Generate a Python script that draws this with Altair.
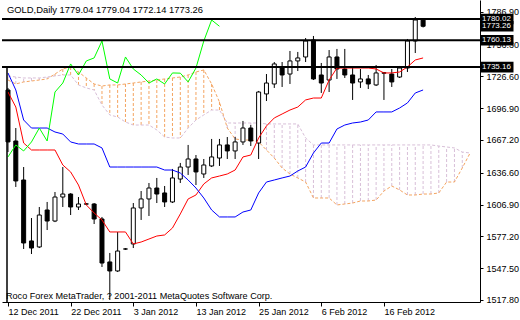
import altair as alt
import pandas as pd

symbol = "GOLD,Daily"
footer = "Roco Forex MetaTrader, ? 2001-2011 MetaQuotes Software Corp."

opens = [1713.8, 1666.2, 1629.8, 1572.9, 1567.3, 1601.8, 1591.5, 1613.9, 1616.7, 1604.6,
         1607.5, 1607.4, 1593.4, 1553.3, 1544.9, 1565.4, 1570.1, 1603.7, 1612.1, 1622.3,
         1617.7, 1609.3, 1630.7, 1641.9, 1649.4, 1635.4, 1642.9, 1650.3, 1662.5, 1656.9,
         1665.3, 1678.3, 1664.3, 1710.1, 1719.4, 1734.3, 1728.7, 1740.9, 1744.6, 1760.5,
         1727.8, 1723.1, 1744.6, 1733.4, 1727.8, 1721.3, 1724.1, 1718.5, 1729.9, 1728.7,
         1725.9, 1734.3, 1759.5, 1779.04]
highs = [1715.7, 1678.3, 1641.9, 1594.3, 1604.6, 1609.3, 1618.6, 1641.9, 1617.5, 1613.9,
         1608.3, 1608.3, 1595.3, 1561.7, 1581.3, 1566.2, 1608.3, 1619.5, 1627.0, 1631.7,
         1624.2, 1640.1, 1645.7, 1662.5, 1653.1, 1649.4, 1668.1, 1668.1, 1669.9, 1669.9,
         1684.9, 1681.1, 1712.9, 1728.7, 1739.9, 1739.9, 1750.2, 1749.3, 1762.3, 1764.2,
         1739.0, 1751.1, 1752.1, 1752.1, 1734.3, 1733.4, 1727.8, 1737.1, 1730.6, 1733.4,
         1736.2, 1761.4, 1781.9, 1779.04]
lows = [1655.9, 1623.3, 1565.4, 1560.7, 1566.3, 1583.1, 1590.5, 1604.6, 1597.1, 1601.8,
        1606.6, 1588.7, 1548.6, 1517.8, 1543.9, 1564.6, 1566.3, 1592.5, 1596.2, 1608.3,
        1604.6, 1608.3, 1627.0, 1634.5, 1625.1, 1631.7, 1641.9, 1642.9, 1649.4, 1649.4,
        1662.5, 1661.5, 1649.4, 1703.5, 1715.7, 1716.6, 1719.4, 1731.5, 1739.9, 1723.1,
        1711.0, 1711.9, 1724.1, 1725.0, 1704.5, 1715.7, 1714.7, 1717.5, 1704.5, 1716.6,
        1725.0, 1730.6, 1748.3, 1772.14]
closes = [1665.3, 1628.9, 1571.0, 1566.3, 1597.1, 1591.5, 1613.9, 1616.7, 1604.6, 1607.4,
          1607.3, 1593.4, 1552.3, 1544.9, 1563.5, 1565.4, 1603.7, 1612.1, 1622.3, 1616.7,
          1609.3, 1631.7, 1641.9, 1649.4, 1637.3, 1643.8, 1651.3, 1662.5, 1656.9, 1665.3,
          1678.3, 1666.2, 1711.9, 1720.3, 1738.1, 1727.8, 1740.9, 1743.7, 1759.5, 1724.1,
          1720.3, 1744.6, 1733.4, 1727.8, 1720.3, 1724.1, 1719.4, 1729.7, 1729.5, 1721.3,
          1734.3, 1759.5, 1779.1, 1773.26]
tenkan = [1711.9, 1697.9, 1664.3, 1657.8, 1657.8, 1657.8, 1657.8, 1643.8, 1637.3, 1625.1,
          1606.5, 1599.0, 1592.5, 1581.3, 1581.3, 1581.3, 1570.1, 1571.9, 1574.7, 1577.5,
          1578.5, 1585.0, 1598.1, 1612.1, 1615.8, 1626.1, 1631.7, 1633.5, 1635.4, 1639.1,
          1651.3, 1653.1, 1669.0, 1680.2, 1687.7, 1691.4, 1695.1, 1697.9, 1704.5, 1706.3,
          1706.3, 1723.1, 1734.3, 1734.3, 1734.3, 1734.3, 1734.3, 1733.4, 1729.7, 1729.7,
          1730.6, 1735.3, 1741.8, 1743.7]
kijun = [1729.7, 1713.8, 1685.8, 1678.3, 1678.3, 1678.3, 1674.6, 1672.7, 1665.3, 1663.4,
         1663.4, 1663.4, 1659.7, 1641.9, 1641.9, 1641.9, 1641.9, 1641.9, 1641.9, 1641.9,
         1639.1, 1639.1, 1636.3, 1629.8, 1622.3, 1613.0, 1601.8, 1595.3, 1595.3, 1595.3,
         1599.9, 1601.8, 1617.7, 1627.9, 1629.8, 1631.7, 1633.5, 1638.2, 1641.9, 1655.0,
         1664.3, 1664.3, 1677.4, 1681.1, 1683.0, 1683.9, 1685.8, 1693.3, 1693.3, 1693.3,
         1697.0, 1701.7, 1711.0, 1713.8]
senkou_a = [1723.1, 1719.4, 1721.3, 1722.2, 1723.1, 1724.1, 1728.7, 1733.4, 1735.3, 1730.6,
            1725.0, 1719.4, 1717.5, 1718.5, 1718.5, 1719.4, 1720.3, 1721.3, 1722.2, 1723.1,
            1724.1, 1725.0, 1725.9, 1727.8, 1730.6, 1732.5, 1719.4, 1702.6, 1678.3, 1668.1,
            1667.1, 1667.1, 1665.3, 1657.8, 1650.3, 1641.0, 1635.4, 1631.7, 1627.9, 1613.0,
            1613.0, 1613.0, 1606.5, 1607.4, 1608.3, 1610.2, 1610.2, 1611.1, 1619.5, 1624.2,
            1620.5, 1615.8, 1615.8, 1616.7, 1616.7, 1617.7, 1627.9, 1627.9, 1641.0, 1655.0]
senkou_b = [1726.9, 1725.9, 1725.0, 1725.0, 1725.0, 1725.9, 1726.9, 1727.8, 1727.8, 1718.5,
            1715.7, 1713.8, 1699.8, 1690.5, 1688.6, 1683.9, 1681.1, 1681.1, 1681.1, 1676.5,
            1669.9, 1669.0, 1669.0, 1678.3, 1685.8, 1690.5, 1695.1, 1695.1, 1683.0, 1683.0,
            1683.0, 1683.0, 1683.0, 1682.1, 1682.1, 1682.1, 1682.1, 1682.1, 1669.0, 1662.5,
            1662.5, 1662.5, 1662.5, 1662.5, 1662.5, 1662.5, 1662.5, 1662.5, 1662.5, 1662.5,
            1662.5, 1662.5, 1662.5, 1662.5, 1662.5, 1661.5, 1660.6, 1659.7, 1655.9, 1655.0]
chikou_shift = 26
level_lines = [1780.02, 1760.13, 1735.16]
y_ticks = [1517.80, 1547.50, 1577.20, 1606.90, 1636.60, 1667.20, 1696.90, 1726.60, 1756.30, 1786.90]
x_tick_pos = [0, 8, 16, 24, 32, 40, 48]
x_tick_labels = ["12 Dec 2011", "22 Dec 2011", "3 Jan 2012", "13 Jan 2012",
                 "25 Jan 2012", "6 Feb 2012", "16 Feb 2012"]

FONT = "Liberation Sans"
FS = 9
x_lo, x_hi = -0.125, 59.625
y_lo, y_hi = 1515.93, 1797.78

n = len(closes)
candles = pd.DataFrame({"i": list(range(n)), "o": opens, "h": highs, "l": lows, "c": closes})
candles["up"] = candles["c"] >= candles["o"]
lines = pd.DataFrame({"i": list(range(n)), "tenkan": tenkan, "kijun": kijun})
chikou = pd.DataFrame({"i": [k - chikou_shift for k in range(chikou_shift, n)],
                       "v": closes[chikou_shift:]})
cloud = pd.DataFrame({"i": list(range(len(senkou_a))), "a": senkou_a, "b": senkou_b})
cloud["kind"] = ["up" if a > b else "down" for a, b in zip(senkou_a, senkou_b)]
last = candles.iloc[-1]
header = pd.DataFrame({"t": [f"{symbol}  {last.o:.2f} {last.h:.2f} {last.l:.2f} {last.c:.2f}"]})
foot = pd.DataFrame({"t": [footer]})
levels = pd.DataFrame({"p": level_lines})
tags = pd.DataFrame({"p": [closes[-1]] + level_lines})
tags["lab"] = [f"{v:.2f}" for v in tags["p"]]
border = pd.DataFrame({"i": [x_lo], "top": [level_lines[-1]], "bot": [y_lo]})

xs = alt.Scale(domain=[x_lo, x_hi], nice=False, zero=False)
ys = alt.Scale(domain=[y_lo, y_hi], nice=False, zero=False)

label_expr = " : ".join(f"datum.value == {p} ? '{t}'" for p, t in zip(x_tick_pos, x_tick_labels)) + " : ''"
x_axis = alt.Axis(values=x_tick_pos, labelExpr=label_expr, orient="bottom", tickSize=4,
                  labelAlign="left", labelOffset=0, labelPadding=1, labelFontSize=FS,
                  labelFont=FONT, labelColor="black", domainColor="black", tickColor="black",
                  grid=False, title=None, labelOverlap=False, labelFlush=False)
y_axis = alt.Axis(values=y_ticks, format=".2f", orient="right", tickSize=3, labelPadding=3,
                  labelFontSize=FS, labelFont=FONT, labelColor="black", domainColor="black",
                  tickColor="black", grid=False, title=None, labelOverlap=False, labelFlush=False)

X = lambda f: alt.X(f, type="quantitative", scale=xs, axis=x_axis)
Y = lambda f: alt.Y(f, type="quantitative", scale=ys, axis=y_axis)

hatch = alt.Chart(cloud).mark_rule(strokeDash=[3, 2], strokeWidth=1).encode(
    x=X("i"), y=Y("a"), y2="b",
    color=alt.Color("kind:N", scale=alt.Scale(domain=["up", "down"], range=["#F4A460", "#D8BFD8"]), legend=None))
span_a = alt.Chart(cloud).mark_line(color="#F4A460", strokeDash=[3, 2], strokeWidth=1).encode(x=X("i"), y=Y("a"))
span_b = alt.Chart(cloud).mark_line(color="#D8BFD8", strokeDash=[3, 2], strokeWidth=1).encode(x=X("i"), y=Y("b"))

wicks = alt.Chart(candles).mark_rule(color="black", strokeWidth=1, clip=True).encode(
    x=X("i"), y=Y("l"), y2="h")
bodies = alt.Chart(candles).mark_bar(size=4, stroke="black", strokeWidth=1, clip=True).encode(
    x=X("i"), y=Y("o"), y2="c",
    fill=alt.condition("datum.up", alt.value("white"), alt.value("black")))

red = alt.Chart(lines).mark_line(color="#FF0000", strokeWidth=1, clip=True).encode(x=X("i"), y=Y("tenkan"))
blue = alt.Chart(lines).mark_line(color="#0000FF", strokeWidth=1, clip=True).encode(x=X("i"), y=Y("kijun"))
green = alt.Chart(chikou).mark_line(color="#00FF00", strokeWidth=1, clip=True).encode(x=X("i"), y=Y("v"))

hlines = alt.Chart(levels).mark_rule(color="black", strokeWidth=2).encode(y=Y("p"))
left_edge = alt.Chart(border).mark_rule(color="black", strokeWidth=1.5).encode(x=X("i"), y=Y("top"), y2="bot")

box_shape = "M-1,-0.32L1,-0.32L1,0.32L-1,0.32Z"
boxes = alt.Chart(tags).mark_point(shape=box_shape, size=33 * 33, filled=True, color="black", opacity=1).encode(
    x=alt.value(495), y=Y("p"))
tag_text = alt.Chart(tags).mark_text(align="left", baseline="middle", color="white", fontSize=8, font=FONT).encode(
    x=alt.value(480), y=Y("p"), text="lab:N")

head = alt.Chart(header).mark_text(align="left", baseline="middle", color="black", fontSize=9.4, font=FONT).encode(
    x=alt.value(5), y=alt.value(10), text="t:N")
foot_t = alt.Chart(foot).mark_text(align="left", baseline="middle", color="black", fontSize=9.1, font=FONT).encode(
    x=alt.value(4), y=alt.value(296), text="t:N")

chart = alt.layer(hatch, span_a, span_b, wicks, bodies, red, blue, green, hlines, left_edge,
                  boxes, tag_text, head, foot_t).properties(
    width=478, height=302,
    padding={"left": 2, "top": 0, "right": 40, "bottom": 18},
    autosize=alt.AutoSizeParams(type="none"),
    background="white",
).configure_view(stroke=None)

chart.save("out.html", embed_options={"renderer": "svg", "actions": False})
